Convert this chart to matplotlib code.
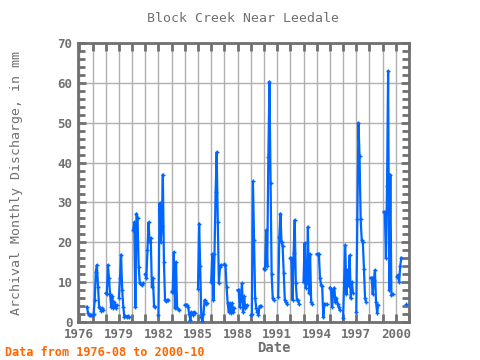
import numpy as np
import matplotlib
matplotlib.use("Agg")
import matplotlib.pyplot as plt
from matplotlib.ticker import MultipleLocator, FuncFormatter

n = np.nan
# Monthly discharge (mm), Jan..Dec per year; NaN = no data
years = list(range(1976, 2001))
monthly_mm = [
    [n, n, n, n, n, n, n, 3.8, 2.2, 1.7, 1.7, 1.7],            # 1976
    [1.7, 2.0, 5.5, 12.6, 14.3, 8.9, 3.8, 3.5, 2.8, 3.5, 3.0, n],  # 1977
    [7.2, 7.0, 14.3, 11.0, 6.9, 3.8, 6.5, 3.5, 5.0, 3.4, 4.2, n],  # 1978
    [6.1, 11.1, 16.9, 8.0, 3.8, 1.3, 1.5, 1.3, 1.5, 1.3, n, n],    # 1979
    [n, 23.0, 25.0, 3.8, 27.2, 26.0, 13.9, 9.7, 9.5, 9.3, 9.7, n], # 1980
    [12.0, 11.0, 18.0, 25.0, 20.0, 21.0, 8.9, 11.0, 4.0, 3.8, n, n],  # 1981
    [1.7, 29.8, 20.0, 24.0, 37.0, 15.0, 5.5, 5.3, 5.5, 5.5, n, n], # 1982
    [7.6, 7.6, 17.5, 3.5, 15.0, 3.5, 3.2, 3.0, n, n, n, n],        # 1983
    [4.3, 4.3, 4.3, 3.8, 2.0, 0.4, 2.5, 1.8, 2.5, 2.3, n, n],      # 1984
    [8.4, 24.7, 14.0, 1.2, 0.2, 2.0, 5.5, 4.5, 4.8, n, n, n],      # 1985
    [10.0, 17.0, 5.5, 17.0, 32.5, 42.6, 25.0, 9.7, 13.7, 14.3, n, n],  # 1986
    [14.5, 14.3, 8.8, 4.7, 2.5, 4.7, 2.2, 4.7, 2.5, 3.5, n, n],    # 1987
    [8.0, 8.0, 3.8, 6.0, 9.7, 2.4, 6.4, 3.5, 4.0, 4.2, n, n],      # 1988
    [1.7, 2.0, 35.3, 20.5, 6.0, 3.5, 2.4, 1.8, 4.0, 4.0, n, n],    # 1989
    [13.4, 13.4, 23.0, 14.0, 41.4, 60.3, 35.0, 12.0, 5.9, 5.5, n, n],  # 1990
    [n, 6.3, 21.4, 27.2, 20.0, 19.0, 12.3, 5.5, 5.0, 4.5, n, n],   # 1991
    [16.0, 16.0, 5.5, 17.3, 25.6, 9.7, 5.5, 5.5, 4.5, n, n, n],    # 1992
    [10.0, 19.8, 8.5, 10.0, 23.9, 7.2, 17.0, 5.0, 4.5, n, n, n],   # 1993
    [17.0, 17.0, 17.0, 11.0, 9.3, 9.0, 1.3, 4.4, 4.5, 4.4, n, n],  # 1994
    [8.6, 8.4, 3.8, 7.5, 8.6, 5.0, 6.0, 4.5, 3.8, 3.0, n, n],      # 1995
    [0.9, 10.0, 19.3, 7.0, 13.0, 9.0, 16.7, 5.9, 10.0, 7.3, n, n], # 1996
    [2.4, 25.8, 50.0, 41.6, 25.8, 20.5, 20.0, 13.4, 5.9, 5.0, n, n],  # 1997
    [n, 11.1, 11.1, 7.0, 10.5, 13.0, 5.0, 2.3, 4.3, n, n, n],      # 1998
    [n, 27.6, 27.6, 16.0, 34.0, 63.0, 8.0, 37.0, 6.8, 7.0, n, n],  # 1999
    [n, 11.4, 11.8, 10.0, 14.0, 16.1, n, n, n, 4.5, n, n],         # 2000
]
tick_years = list(range(1976, 2001, 3))

t = []
v = []
for y, row in zip(years, monthly_mm):
    for m, val in enumerate(row):
        t.append(y + m / 12.0)
        v.append(val)
t = np.array(t)
v = np.array(v)

gray = "#707070"
W, H = 480.0, 360.0
fig = plt.figure(figsize=(4.8, 3.6), dpi=100)
ax = fig.add_axes([78/W, 1-322/H, (409-78)/W, (322-43)/H])

ax.plot(t, v, color="#0066FF", lw=1.6, marker="+", ms=2.5, mew=1.0, zorder=3)

ax.set_xlim(1975.9, 2001.0)
ax.set_ylim(0, 70)
ax.xaxis.set_major_locator(MultipleLocator(1))
ax.xaxis.set_major_formatter(FuncFormatter(
    lambda x, p: str(int(round(x))) if int(round(x)) in tick_years else ""))
ax.yaxis.set_major_locator(MultipleLocator(10))
ax.yaxis.set_minor_locator(MultipleLocator(2))

ax.grid(True, which="major", color="#b0b0b0", lw=1.0, zorder=0)
for s in ax.spines.values():
    s.set_color(gray)
    s.set_linewidth(2)
ax.tick_params(which="both", direction="in", top=True, right=True,
               color=gray, width=2, labelcolor=gray)
ax.tick_params(which="major", length=6, pad=4)
ax.tick_params(which="minor", length=5)
mono = "DejaVu Sans Mono"
for lab in ax.get_xticklabels() + ax.get_yticklabels():
    lab.set_family(mono)
    lab.set_fontsize(9)
    lab.set_fontweight("bold")

fig.text(243/W, 1-18/H, "Block Creek Near Leedale", ha="center", va="center",
         family=mono, fontsize=9.5, color=gray)
fig.text(17/W, 1-183/H, "Archival Monthly Discharge, in mm", rotation=90,
         ha="center", va="center", family=mono, fontsize=9.5, color=gray)
fig.text(274/W, 1-348/H, "Date", ha="center", va="center",
         family=mono, fontsize=10, fontweight="bold", color=gray)
fig.text(5/W, 1-352/H, "Data from 1976-08 to 2000-10", ha="left", va="center",
         family=mono, fontsize=8.5, fontweight="bold", color="#FF6600")

fig.savefig("out.png", dpi=100)
